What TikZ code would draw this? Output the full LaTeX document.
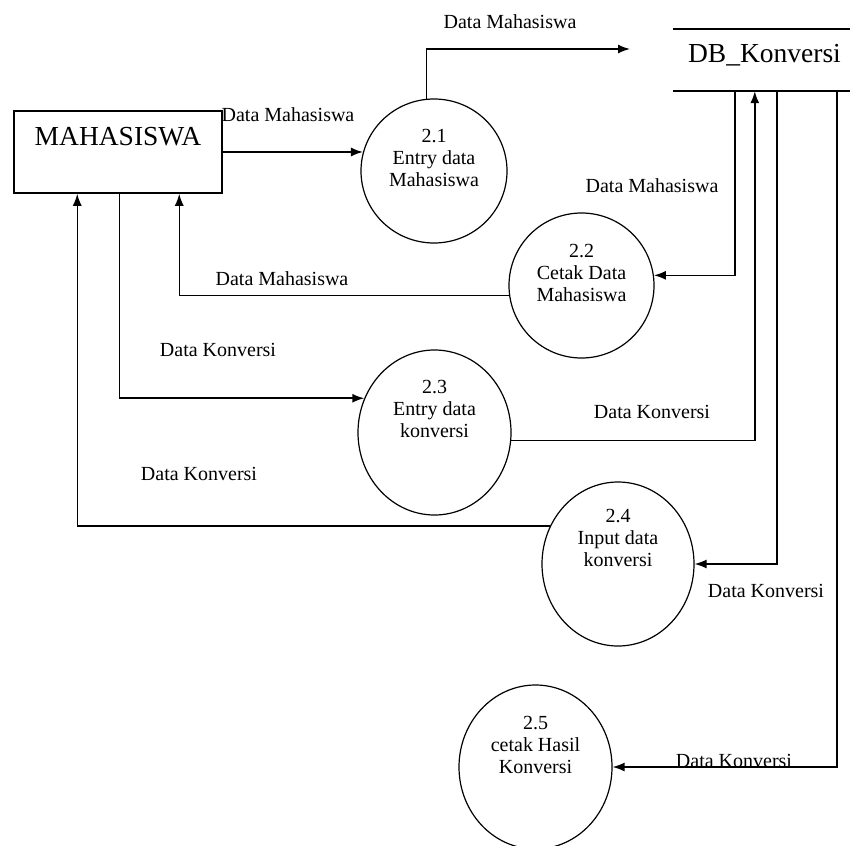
\documentclass[tikz,border=0pt]{standalone}
\usepackage{fontspec}
\setmainfont{Liberation Serif}
\usetikzlibrary{positioning, arrows.meta, shapes}

\begin{document}
\begin{tikzpicture}[x=1pt, y=-1pt, every node/.style={font=\fontsize{20}{22}\selectfont}]

	\tikzstyle{entity} = [rectangle, draw, line width=1.5pt, minimum width=208pt, minimum height=82pt, inner sep=0pt]
	\tikzstyle{store} = [rectangle, minimum width=177pt, minimum height=62pt, inner sep=0pt]
	\tikzstyle{process} = [ellipse, draw, line width=1.2pt, inner sep=0pt]
	\tikzstyle{ptext} = [align=center, font=\fontsize{20}{22}\selectfont]
	\tikzstyle{bigtext} = [font=\fontsize{27.5}{30}\selectfont]
	\tikzstyle{line} = [draw, line width=1.5pt, -{Latex[length=12pt, width=9pt]}]

	\useasboundingbox (0,0) rectangle (850,845);

	\node [entity, label={[bigtext, yshift=15pt]center:MAHASISWA}] (mhs) at (118,152) {};
	\node [store, label={[bigtext, xshift=3pt, yshift=5pt]center:DB\_Konversi}] (db) at (761.5,60) {};
	\draw [line width=1.5pt] (db.north west) -- (db.north east);
	\draw [line width=1.5pt] (db.south west) -- (db.south east);

	\node [process, minimum width=146pt, minimum height=144pt, label={[ptext, yshift=13pt]center:{2.1\\Entry data\\Mahasiswa}}] (p21) at (434,171) {};
	\node [process, minimum width=145pt, minimum height=145pt, label={[ptext, yshift=13pt]center:{2.2\\Cetak Data\\Mahasiswa}}] (p22) at (581.5,285.5) {};
	\node [process, minimum width=153pt, minimum height=165pt, label={[ptext, yshift=24pt]center:{2.3\\Entry data\\konversi}}] (p23) at (434.5,432.5) {};
	\node [process, minimum width=152pt, minimum height=164pt, label={[ptext, yshift=26pt]center:{2.4\\Input data\\konversi}}] (p24) at (618,564) {};
	\node [process, minimum width=153pt, minimum height=164pt, label={[ptext, yshift=22pt]center:{2.5\\cetak Hasil\\Konversi}}] (p25) at (535.5,767) {};

	\coordinate (dbin) at (630,49);

	\path [line] (mhs.east) -- (mhs.east -| p21.165);
	\path [line] (p21.96) |- (dbin);
	\path [line] ([xshift=62pt]db.south west) |- (p22.8);
	\path [line] (p22.188) -| ([xshift=166pt]mhs.south west);
	\path [line] ([xshift=106pt]mhs.south west) |- (p23.154);
	\path [line] (p23.354) -| ([xshift=82pt]db.south west);
	\path [line] (p24.151) -| ([xshift=64pt]mhs.south west);
	\path [line] ([xshift=104pt]db.south west) |- (p24.east);
	\path [line] ([xshift=164pt]db.south west) |- (p25.east);

	\node (l1) at (288,115) {Data Mahasiswa};
	\node (l2) at (510,22) {Data Mahasiswa};
	\node (l3) at (652,186) {Data Mahasiswa};
	\node (l4) at (282,279) {Data Mahasiswa};
	\node (l5) at (218,350) {Data Konversi};
	\node (l6) at (199,474) {Data Konversi};
	\node (l7) at (652,412) {Data Konversi};
	\node (l8) at (766,591) {Data Konversi};
	\node (l9) at (734,761) {Data Konversi};
\end{tikzpicture}
\end{document}
